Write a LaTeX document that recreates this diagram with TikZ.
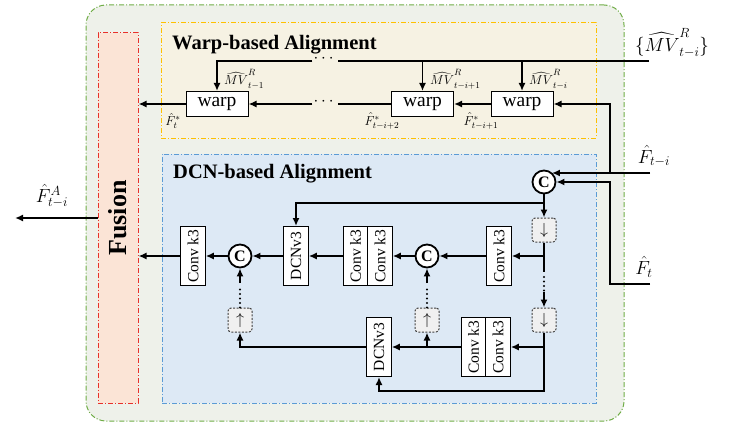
\documentclass[tikz,border=0pt]{standalone}
\usepackage{fix-cm}
\usepackage{amsmath}
\usepackage{fontspec}
\setmainfont{Liberation Serif}
\usetikzlibrary{arrows.meta,calc}
\definecolor{outerfill}{HTML}{EEF1EA}
\definecolor{outerline}{HTML}{70AD47}
\definecolor{warpfill}{HTML}{F6F2E3}
\definecolor{warpline}{HTML}{FFC000}
\definecolor{dcnfill}{HTML}{DDE9F5}
\definecolor{dcnline}{HTML}{5B9BD5}
\definecolor{fusfill}{HTML}{FBE4D6}
\definecolor{fusline}{HTML}{E8302A}
\tikzset{
 arr/.style={line width=1.9pt, -{Latex[length=8pt,width=7pt]}},
 ln/.style={line width=1.9pt},
 dotl/.style={line width=2.2pt, line cap=round, dash pattern=on 0pt off 4.5pt},
 warpbox/.style={draw, fill=white, line width=1pt, minimum width=62pt, minimum height=25pt, inner sep=0pt, font=\fontsize{19.5}{19.5}\selectfont},
 convbox/.style={draw, fill=white, line width=1pt, minimum width=24.5pt, minimum height=59pt, inner sep=0pt, font=\fontsize{15.5}{15.5}\selectfont},
 catc/.style={circle, draw, fill=white, line width=1.8pt, minimum size=23pt, inner sep=0pt, font=\bfseries\fontsize{16}{16}\selectfont},
 sampbox/.style={draw=black!75, fill=black!6, rounded corners=3pt, dash pattern=on 2pt off 1.5pt, line width=1pt, minimum size=24pt, inner sep=0pt, font=\fontsize{16}{16}\selectfont},
 region/.style={line width=1pt, dash pattern=on 5pt off 2pt on 1pt off 2pt, inner sep=0pt},
 dotsn/.style={inner sep=1pt, font=\bfseries\fontsize{17}{17}\selectfont},
 lbl/.style={inner sep=0pt, font=\fontsize{13}{13}\selectfont},
 biglbl/.style={inner sep=0pt, font=\fontsize{19}{19}\selectfont},
 titl/.style={anchor=west, inner sep=0pt, font=\bfseries\fontsize{20.5}{20.5}\selectfont},
}
\begin{document}
\begin{tikzpicture}[x=1pt,y=-1pt]
\useasboundingbox (0,0) rectangle (738,425);
% regions
\node[region, draw=outerline, fill=outerfill, rounded corners=20pt, minimum width=538pt, minimum height=416pt] (outer) at (355,213) {};
\node[region, draw=warpline, fill=warpfill, minimum width=435pt, minimum height=115pt] (warpreg) at (378.5,80.5) {};
\node[region, draw=dcnline, fill=dcnfill, minimum width=434pt, minimum height=249pt] (dcnreg) at (379,278.5) {};
\node[region, draw=fusline, fill=fusfill, minimum width=40pt, minimum height=370pt, font=\bfseries\fontsize{26}{26}\selectfont] (fusion) at (118,218) {\rotatebox{90}{Fusion}};
\node[titl] (wtitle) at (172,45) {Warp-based Alignment};
\node[titl] (dtitle) at (173,174) {DCN-based Alignment};

% warp part
\node[warpbox] (w1) at (217,104) {warp};
\node[warpbox] (w2) at (422.5,104) {warp};
\node[warpbox] (w3) at (522,104) {warp};
\coordinate (mvin) at (649,61);
\node[dotsn] (dotsA) at (325,59) {$\cdots$};
\node[dotsn] (dotsB) at (325,102) {$\cdots$};
\draw[ln] (mvin) -- (mvin -| dotsA.east);
\draw[arr] (mvin -| dotsA.west) -| (w1.north);
\draw[arr] (w2.north |- mvin) -- (w2.north);
\draw[arr] (w3.north |- mvin) -- (w3.north);
\draw[arr] (w3) -- (w2);
\draw[ln] (w2.west) -- (w2.west -| dotsB.east);
\draw[arr] (w2.west -| dotsB.west) -- (w1.east);
\draw[arr] (w1.west) -- (fusion.east |- w1.west);
\node[lbl, anchor=west] (l1) at (224,79) {$\widehat{MV}^R_{t-1}$};
\node[lbl, anchor=west] (l2) at (430,79) {$\widehat{MV}^R_{t-i+1}$};
\node[lbl, anchor=west] (l3) at (529,79) {$\widehat{MV}^R_{t-i}$};
\node[biglbl] (lmv) at (672,43) {$\{\widehat{MV}^R_{t-i}\}$};
\node[lbl] (f1) at (173,121) {$\hat F^*_t$};
\node[lbl] (f2) at (382,121) {$\hat F^*_{t-i+2}$};
\node[lbl] (f3) at (481,121) {$\hat F^*_{t-i+1}$};

% DCN part
\node[catc] (cat0) at (544,182) {C};
\node[sampbox] (s1) at (544,230) {$\downarrow$};
\node[sampbox] (s2) at (544,320) {$\downarrow$};
\node[convbox] (c1) at (499,256) {\rotatebox{90}{Conv k3}};
\node[catc] (cat2) at (427,256) {C};
\node[convbox] (cb) at (380,256) {\rotatebox{90}{Conv k3}};
\node[convbox] (ca) at (355.5,256) {\rotatebox{90}{Conv k3}};
\node[convbox] (dcn1) at (296,256) {\rotatebox{90}{DCNv3}};
\node[catc] (cat1) at (240,256) {C};
\node[convbox] (c0) at (193,256) {\rotatebox{90}{Conv k3}};
\node[sampbox] (u1) at (240,320) {$\uparrow$};
\node[sampbox] (u2) at (427,320) {$\uparrow$};
\node[convbox] (dcn2) at (379,347) {\rotatebox{90}{DCNv3}};
\node[convbox] (db) at (498,347) {\rotatebox{90}{Conv k3}};
\node[convbox] (da) at (473.5,347) {\rotatebox{90}{Conv k3}};

% inputs
\coordinate (vx) at (610,0);
\coordinate (fti) at (650,173);
\coordinate (ft) at (650,284);
\coordinate (br1) at (fti -| vx);
\draw[arr] (fti) -- (cat0.50 |- fti);
\draw[arr] (br1) |- (w3.east);
\draw[arr] (ft) -| (vx |- cat0.east) -- (cat0.east);
\node[biglbl] (lfti) at (654,156) {$\hat F_{t-i}$};
\node[biglbl] (lft) at (644,267) {$\hat F_t$};

% DCN connectors
\coordinate (j1) at (544,203);
\draw[arr] (cat0) -- (s1);
\draw[arr] (j1) -| (dcn1.north);
\draw[ln] (s1.south) -- (s1 |- 0,272);
\draw[dotl] (s1 |- 0,277) -- (s1 |- 0,291);
\draw[arr] (s1 |- 0,292) -- (s2.north);
\draw[arr] (s1 |- c1) -- (c1);
\draw[arr] (c1) -- (cat2);
\draw[arr] (cat2) -- (cb);
\draw[arr] (ca) -- (dcn1);
\draw[arr] (dcn1) -- (cat1);
\draw[arr] (cat1) -- (c0);
\draw[arr] (c0) -- (fusion.east |- c0);
\draw[dotl] (u1.north) -- (u1 |- 0,287);
\draw[arr] (u1 |- 0,283) -- (cat1.south);
\draw[dotl] (u2.north) -- (u2 |- 0,287);
\draw[arr] (u2 |- 0,283) -- (cat2.south);
\draw[arr] (s2 |- db) -- (db);
\draw[arr] (s2.south) -- (s2 |- 0,391) -| (dcn2.south);
\draw[arr] (da) -- (dcn2);
\draw[arr] (u2 |- da) -- (u2.south);
\draw[arr] (dcn2) -| (u1.south);

% output
\coordinate (out) at (15,218);
\draw[arr] (fusion.west) -- (out);
\node[biglbl] (lout) at (52,196) {$\hat F^A_{t-i}$};
\end{tikzpicture}
\end{document}
